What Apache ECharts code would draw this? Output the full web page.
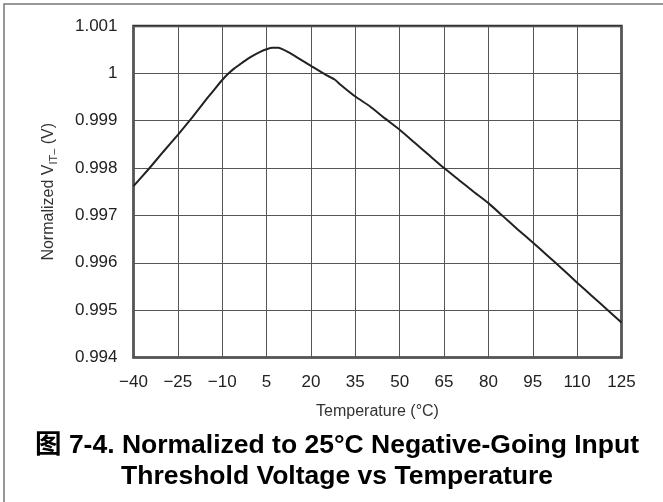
<!DOCTYPE html>
<html>
<head>
<meta charset="utf-8">
<script src="https://cdn.jsdelivr.net/npm/echarts@6/dist/echarts.min.js"></script>
<style>
html,body{margin:0;padding:0;background:#fff;}
#chart{width:663px;height:502px;}
</style>
</head>
<body>
<div id="chart"></div>
<script>
var temperatures = [-40, -35, -30, -25, -20, -15, -12, -10, -8, -6, -4, -2, 0, 3, 5, 7, 9, 12, 15, 20, 25, 28, 30, 35, 40, 45, 50, 55, 60, 65, 70, 75, 80, 85, 90, 95, 100, 105, 110, 115, 120, 125];
var normalizedV = [0.99762, 0.99797, 0.99834, 0.99870, 0.99908, 0.99948, 0.99971, 0.99986, 0.99999, 1.00010, 1.00019, 1.00028, 1.00036, 1.00046, 1.00051, 1.00054, 1.00054, 1.00046, 1.00035, 1.00016, 0.99997, 0.99987, 0.99976, 0.99951, 0.99930, 0.99905, 0.99881, 0.99854, 0.99827, 0.99800, 0.99775, 0.99750, 0.99726, 0.99698, 0.99670, 0.99643, 0.99615, 0.99587, 0.99558, 0.99530, 0.99502, 0.99474];
var xTickLabels = [-40, -25, -10, 5, 20, 35, 50, 65, 80, 95, 110, 125];
var yTickLabels = [0.994, 0.995, 0.996, 0.997, 0.998, 0.999, 1, 1.001];
var xTitle = 'Temperature (°C)';
var yTitleMain = 'Normalized V';
var yTitleSub = 'IT–';
var yTitleUnit = ' (V)';
var captionLine1 = '图 7-4. Normalized to 25°C Negative-Going Input';
var captionLine2 = 'Threshold Voltage vs Temperature';

var FONT = "'Liberation Sans', Arial, Helvetica, 'Noto Sans CJK SC', sans-serif";
var points = temperatures.map(function (t, i) { return [t, normalizedV[i]]; });

var chart = echarts.init(document.getElementById('chart'), null, {renderer: 'canvas'});
chart.setOption({
  animation: false,
  backgroundColor: '#fff',
  grid: {
    left: 133.5, right: 41.5, top: 26, bottom: 144.5,
    show: true, borderColor: '#333', borderWidth: 2.5, containLabel: false
  },
  xAxis: {
    type: 'value',
    min: xTickLabels[0],
    max: xTickLabels[xTickLabels.length - 1],
    interval: 15,
    name: xTitle,
    nameLocation: 'middle',
    nameGap: 46,
    nameTextStyle: {fontFamily: FONT, fontSize: 16, color: '#333'},
    axisLine: {show: false},
    axisTick: {show: false},
    axisLabel: {
      fontFamily: FONT, fontSize: 17, color: '#222', margin: 16,
      formatter: function (v) { return (v < 0 ? '\u2212' + Math.abs(v) : String(v)); }
    },
    splitLine: {show: true, lineStyle: {color: '#555', width: 1}}
  },
  yAxis: {
    type: 'value',
    min: yTickLabels[0],
    max: yTickLabels[yTickLabels.length - 1],
    interval: 0.001,
    name: '{a|' + yTitleMain + '}{s|' + yTitleSub + '}{a|' + yTitleUnit + '}',
    nameLocation: 'middle',
    nameRotate: 90,
    nameGap: 77,
    nameTextStyle: {
      rich: {
        a: {fontFamily: FONT, fontSize: 16, color: '#333', lineHeight: 20, verticalAlign: 'bottom'},
        s: {fontFamily: FONT, fontSize: 11, color: '#333', lineHeight: 14, verticalAlign: 'bottom', padding: [0, 0, -3, 0]}
      }
    },
    axisLine: {show: false},
    axisTick: {show: false},
    axisLabel: {
      fontFamily: FONT, fontSize: 17, color: '#222', margin: 16,
      formatter: function (v) { return String(parseFloat(v.toFixed(3))); }
    },
    splitLine: {show: true, lineStyle: {color: '#555', width: 1}}
  },
  series: [{
    type: 'line',
    data: points,
    showSymbol: false,
    smooth: 0.15,
    lineStyle: {color: '#222', width: 2},
    z: 5
  }],
  graphic: [
    {
      type: 'polyline',
      shape: {points: [[4, 502], [4, 4], [663, 4]]},
      style: {stroke: '#777', lineWidth: 1.5, fill: null},
      silent: true
    },
    {
      type: 'text',
      x: 337, y: 430,
      style: {
        text: captionLine1 + '\n' + captionLine2,
        font: "bold 26.5px " + FONT,
        fill: '#000',
        textAlign: 'center',
        textVerticalAlign: 'top',
        lineHeight: 31
      },
      silent: true
    }
  ]
});
</script>
</body>
</html>
